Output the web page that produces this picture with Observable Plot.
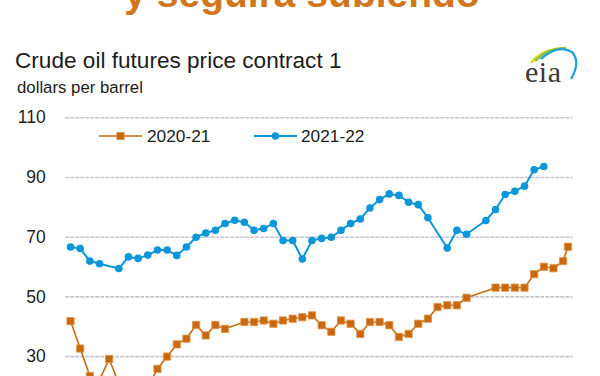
<!DOCTYPE html>
<html>
<head>
<meta charset="utf-8">
<script src="https://cdn.jsdelivr.net/npm/d3@7"></script>
<script src="https://cdn.jsdelivr.net/npm/@observablehq/plot@0.6"></script>
<style>
  html, body { margin: 0; padding: 0; background: #fff; }
  #wrap { position: relative; width: 600px; height: 376px; overflow: hidden; background: #fff; }
  #chart { position: absolute; left: 0; top: 100px; }
  #overlay { position: absolute; left: 0; top: 0; }
  text { font-family: "Liberation Sans", Arial, sans-serif; }
</style>
</head>
<body>
<div id="wrap">
  <div id="chart"></div>
  <svg id="overlay" width="600" height="376"></svg>
</div>
<script>
// ---- data (weekly closes, week index from start of each season) ----
const headline = "y seguirá subiendo";
const chartTitle = "Crude oil futures price contract 1";
const unitLabel = "dollars per barrel";
const seriesNames = ["2020-21", "2021-22"];
const yTicks = [30, 50, 70, 90, 110];

const weeks2020 = [0,1,2,3,4,5,6,7,8,9,10,11,12,13,14,15,16,18,19,20,21,22,23,24,25,26,27,28,29,30,31,32,33,34,35,36,37,38,39,40,41,44,45,46,47,48,49,50,51,51.5];
const values2020 = [41.9,32.7,23.5,22.2,29.2,21.0,18.4,17.0,19.8,25.9,30.0,34.1,36.0,40.6,37.1,40.6,39.3,41.6,41.6,42.1,41.0,42.1,42.7,43.2,43.8,40.5,38.3,42.1,41.0,37.6,41.6,41.6,40.5,36.6,37.6,41.0,42.7,46.6,47.2,47.2,49.7,53.1,53.1,53.1,53.1,57.6,60.1,59.6,62.0,66.8];

const weeks2021 = [0,1,2,3,5,6,7,8,9,10,11,12,13,14,15,16,17,18,19,20,21,22,23,24,25,26,27,28,29,30,31,32,33,34,35,36,37,39,40,41,43,44,45,46,47,48,49];
const values2021 = [66.7,66.2,62.0,61.1,59.5,63.4,62.9,64.0,65.7,65.7,63.9,66.7,70.0,71.4,72.3,74.6,75.7,75.0,72.3,72.9,74.6,68.9,68.9,62.7,68.9,69.6,70.0,72.3,74.6,76.1,79.8,82.6,84.5,84.0,81.7,80.9,76.5,66.4,72.3,71.0,75.6,79.3,84.3,85.4,87.1,92.6,93.7];

const colors = ["#C8690F", "#0A96D8"];

const s2020 = weeks2020.map((w, i) => ({week: w, value: values2020[i]}));
const s2021 = weeks2021.map((w, i) => ({week: w, value: values2021[i]}));

const chart = Plot.plot({
  width: 600,
  height: 340,
  marginTop: 17.3,
  marginBottom: 24.2,
  marginLeft: 65.2,
  marginRight: 27.7,
  style: {fontFamily: "'Liberation Sans', Arial, sans-serif", fontSize: "17.5px", color: "#222", background: "transparent", overflow: "visible"},
  x: {domain: [-0.5, 52], axis: null},
  y: {domain: [10, 110], axis: null},
  marks: [
    Plot.gridY(yTicks, {stroke: "#c6c6ce", strokeOpacity: 1, strokeWidth: 1.6, strokeDasharray: "4,1"}),
    Plot.axisY(yTicks, {tickSize: 0, tickPadding: 20, label: null, fill: "#1e1e1e"}),
    Plot.line(s2020, {x: "week", y: "value", stroke: colors[0], strokeWidth: 1.6}),
    Plot.dot(s2020, {x: "week", y: "value", symbol: "square", r: 4.1, fill: colors[0], stroke: "#E0944A", strokeWidth: 0.8}),
    Plot.line(s2021, {x: "week", y: "value", stroke: colors[1], strokeWidth: 2}),
    Plot.dot(s2021, {x: "week", y: "value", r: 3.8, fill: colors[1], stroke: "none"})
  ]
});
document.getElementById("chart").appendChild(chart);

// ---- header, logo and legend overlay ----
const ov = d3.select("#overlay");
ov.append("text").attr("x", 302).attr("y", 7).attr("text-anchor", "middle")
  .attr("font-size", 39).attr("font-weight", "bold").attr("fill", "#D2761A").text(headline);
ov.append("text").attr("x", 15).attr("y", 68).attr("font-size", 22.6).attr("fill", "#1c1c1c").text(chartTitle);
ov.append("text").attr("x", 17).attr("y", 93).attr("font-size", 16.8).attr("fill", "#1c1c1c").text(unitLabel);

// eia logo
const logo = ov.append("g");
logo.append("path").attr("d", "M531 63 Q540 51 556 49").attr("fill", "none").attr("stroke", "#E6D31E").attr("stroke-width", 2.6);
logo.append("path").attr("d", "M535 61 Q548 48 566 48").attr("fill", "none").attr("stroke", "#8DC63F").attr("stroke-width", 2.6);
logo.append("path").attr("d", "M541 59 Q558 44 572 52 Q581 62 571 79").attr("fill", "none").attr("stroke", "#1AA0DC").attr("stroke-width", 2.2);
logo.append("text").attr("x", 525).attr("y", 82).attr("font-size", 30)
  .style("font-family", "'Liberation Serif', 'DejaVu Serif', serif").attr("fill", "#3a3a3a").attr("letter-spacing", 0.5).text("eia");

// legend
const leg = [
  {x1: 99, x2: 142, tx: 147, name: seriesNames[0], color: colors[0], sym: "square"},
  {x1: 254, x2: 297, tx: 301, name: seriesNames[1], color: colors[1], sym: "circle"}
];
const ly = 136;
leg.forEach(d => {
  ov.append("line").attr("x1", d.x1).attr("x2", d.x2).attr("y1", ly).attr("y2", ly)
    .attr("stroke", d.color).attr("stroke-width", d.sym === "square" ? 1.6 : 2);
  const cx = (d.x1 + d.x2) / 2;
  if (d.sym === "square") {
    ov.append("rect").attr("x", cx - 3.7).attr("y", ly - 3.7).attr("width", 7.4).attr("height", 7.4)
      .attr("fill", d.color).attr("stroke", "#E0944A").attr("stroke-width", 0.8);
  } else {
    ov.append("circle").attr("cx", cx).attr("cy", ly).attr("r", 3.8).attr("fill", d.color);
  }
  ov.append("text").attr("x", d.tx).attr("y", ly + 6.2).attr("font-size", 17.3).attr("fill", "#1c1c1c").text(d.name);
});
</script>
</body>
</html>
